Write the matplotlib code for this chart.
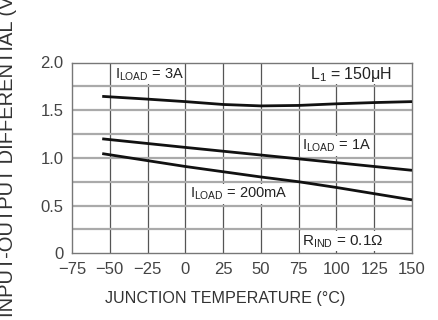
import matplotlib
matplotlib.use("Agg")
import matplotlib.pyplot as plt
from matplotlib.patches import Rectangle

# ---- data ----
temp_3a = [-55, -25, 0, 25, 50, 75, 100, 125, 150]
vdiff_3a = [1.645, 1.616, 1.59, 1.56, 1.545, 1.55, 1.567, 1.58, 1.59]
temp_1a = [-55, 0, 50, 100, 150]
vdiff_1a = [1.20, 1.11, 1.03, 0.95, 0.87]
temp_200ma = [-55, 0, 50, 75, 100, 150]
vdiff_200ma = [1.045, 0.91, 0.80, 0.75, 0.69, 0.56]

x_ticks = [-75, -50, -25, 0, 25, 50, 75, 100, 125, 150]
x_ticklabels = ["\u221275", "\u221250", "\u221225", "0", "25", "50", "75", "100", "125", "150"]
y_ticks = [0, 0.5, 1.0, 1.5, 2.0]
y_ticklabels = ["0", "0.5", "1.0", "1.5", "2.0"]
y_grid = [0.25, 0.5, 0.75, 1.0, 1.25, 1.5, 1.75]

FONT = ["Liberation Sans", "DejaVu Sans"]
plt.rcParams["font.family"] = FONT
plt.rcParams["mathtext.fontset"] = "custom"
plt.rcParams["mathtext.rm"] = "Liberation Sans"

fig = plt.figure(figsize=(4.38, 3.2), dpi=100)
ax = fig.add_axes([72 / 438, 1 - 253.3 / 320, 340 / 438, 190.8 / 320])
ax.set_xlim(-75, 150)
ax.set_ylim(0, 2.0)

# grid
for gx in x_ticks[1:-1]:
    ax.axvline(gx, color="#555555", lw=0.9, zorder=1)
for gy in y_grid:
    ax.axhline(gy, color="#aaaaaa", lw=1.6, zorder=1)

for s in ax.spines.values():
    s.set_color("#777777")
    s.set_linewidth(1.0)

# white label boxes
boxes = [(-48, 1.77, 46, 0.21), (52, 1.77, 96, 0.21), (76, 1.02, 47, 0.21),
         (2, 0.52, 70, 0.21), (76, 0.02, 72, 0.21)]
for bx, by, bw, bh in boxes:
    ax.add_patch(Rectangle((bx, by), bw, bh, facecolor="white", edgecolor="none", zorder=2))

# curves
for t, v in [(temp_3a, vdiff_3a), (temp_1a, vdiff_1a), (temp_200ma, vdiff_200ma)]:
    ax.plot(t, v, color="#111111", lw=2.0, zorder=3, solid_capstyle="butt")

lab = dict(color="#222222", zorder=4, va="center")
ax.text(-46.5, 1.87, r"I$_{\mathregular{LOAD}}$ = 3A", ha="left", fontsize=10.5, **lab)
ax.text(137, 1.87, r"L$_{\mathregular{1}}$ = 150$\mathregular{\mu}$H", ha="right", fontsize=11.5, **lab)
ax.text(77, 1.13, r"I$_{\mathregular{LOAD}}$ = 1A", ha="left", fontsize=10.5, **lab)
ax.text(3, 0.63, r"I$_{\mathregular{LOAD}}$ = 200mA", ha="left", fontsize=10.5, **lab)
ax.text(77, 0.12, r"R$_{\mathregular{IND}}$ = 0.1$\Omega$", ha="left", fontsize=11, **lab)

ax.set_xticks(x_ticks)
ax.set_xticklabels(x_ticklabels)
ax.set_yticks(y_ticks)
ax.set_yticklabels(y_ticklabels)
ax.tick_params(axis="x", length=0, labelsize=12, labelcolor="#444444", pad=6)
ax.tick_params(axis="y", length=0, labelsize=12, labelcolor="#444444", pad=6)

fig.text(225 / 438, 1 - 298 / 320, "JUNCTION TEMPERATURE (\u00b0C)", ha="center", va="center",
         fontsize=11.6, color="#333333")
fig.text(7.5 / 438, 1 - 317 / 320, "INPUT-OUTPUT DIFFERENTIAL (V)", rotation=90,
         ha="center", va="bottom", fontsize=14.5, color="#333333")
fig.text(68 / 438, 1 + 7 / 320, "Dropout Voltage", ha="left", va="baseline",
         fontsize=20, fontweight="bold", color="#111111")

fig.savefig("out.png", dpi=100)
